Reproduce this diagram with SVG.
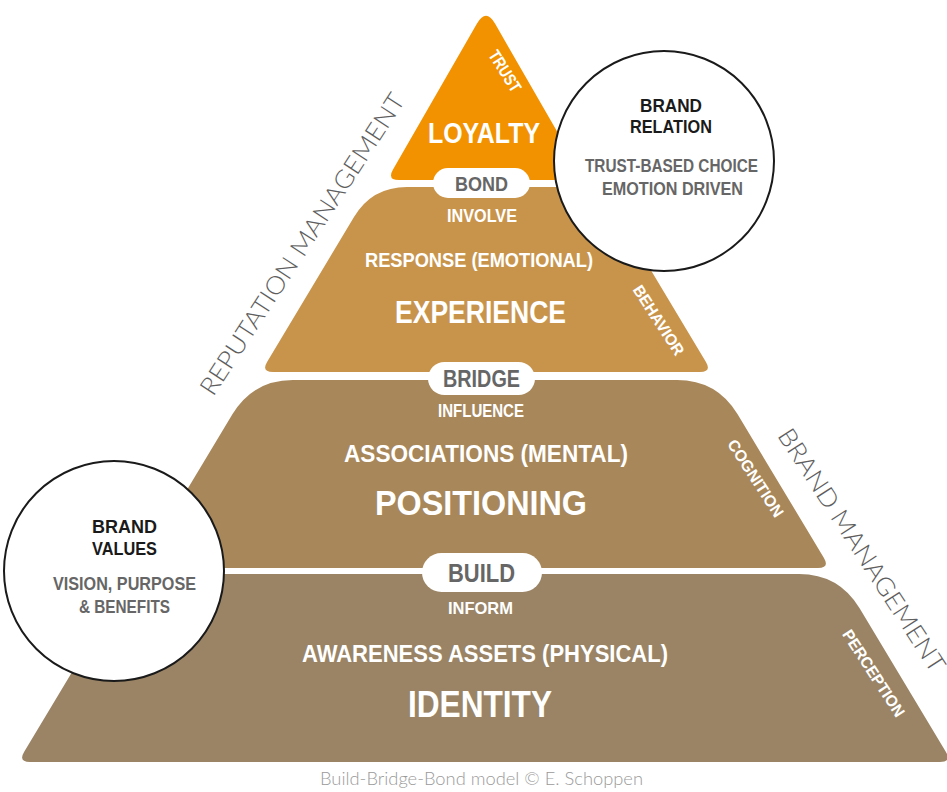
<svg xmlns="http://www.w3.org/2000/svg" width="947" height="792" viewBox="0 0 947 792">
<style>
.b{font-family:"Liberation Sans Narrow","Liberation Sans",Arial,sans-serif;font-weight:bold;text-anchor:middle}
.w{fill:#ffffff}
.g{fill:#666666}
.k{fill:#1a1a1a}
.t{font-family:Lato,"Open Sans","Liberation Sans",sans-serif;font-weight:300;fill:#5e5e5e;text-anchor:middle}
.pill{fill:#ffffff}
.circ{fill:#ffffff;stroke:#1a1a1a;stroke-width:2}
</style>
<rect width="947" height="792" fill="#ffffff"/>
<g id="layer-identity">
<path d="M171,574 L799,574 Q839,574 859.6,608.3 L945.8,751.7 Q952,762 940,762 L30,762 Q18,762 24.2,751.7 L110.4,608.3 Q131,574 171,574 Z" fill="#9a8465"/>
<text class="b w" x="485" y="662" font-size="24" textLength="366" lengthAdjust="spacingAndGlyphs">AWARENESS ASSETS (PHYSICAL)</text>
<text class="b w" x="480" y="717" font-size="37" textLength="144" lengthAdjust="spacingAndGlyphs">IDENTITY</text>
<text class="b w" x="480.5" y="614" font-size="17" textLength="65" lengthAdjust="spacingAndGlyphs">INFORM</text>
<text class="b w" font-size="16" transform="translate(874,673) rotate(57)" y="6" textLength="100" lengthAdjust="spacingAndGlyphs">PERCEPTION</text>
</g>
<g id="layer-positioning">
<path d="M293,380 L677,380 Q717,380 737.6,414.3 L823.8,557.7 Q830,568 818,568 L152,568 Q140,568 146.2,557.7 L232.4,414.3 Q253,380 293,380 Z" fill="#a8875a"/>
<text class="b w" x="486" y="462" font-size="23" textLength="284" lengthAdjust="spacingAndGlyphs">ASSOCIATIONS (MENTAL)</text>
<text class="b w" x="481" y="515" font-size="35" textLength="212" lengthAdjust="spacingAndGlyphs">POSITIONING</text>
<text class="b w" x="481" y="417" font-size="18.5" textLength="86" lengthAdjust="spacingAndGlyphs">INFLUENCE</text>
<text class="b w" font-size="16" transform="translate(756,478) rotate(57)" y="6" textLength="89" lengthAdjust="spacingAndGlyphs">COGNITION</text>
</g>
<g id="layer-experience">
<path d="M407,187 L566,187 Q601,187 619,217 L705.8,361.7 Q712,372 700,372 L273,372 Q261,372 267.2,361.7 L354,217 Q372,187 407,187 Z" fill="#c8944c"/>
<text class="b w" x="479" y="267" font-size="20" textLength="228" lengthAdjust="spacingAndGlyphs">RESPONSE (EMOTIONAL)</text>
<text class="b w" x="480.5" y="323" font-size="32" textLength="171" lengthAdjust="spacingAndGlyphs">EXPERIENCE</text>
<text class="b w" x="482" y="222" font-size="18" textLength="70" lengthAdjust="spacingAndGlyphs">INVOLVE</text>
<text class="b w" font-size="16" transform="translate(659,320) rotate(57)" y="6" textLength="80" lengthAdjust="spacingAndGlyphs">BEHAVIOR</text>
</g>
<g id="layer-loyalty">
<path d="M477,23.6 Q486,8 495,23.6 L579,169.6 Q585,180 573,180 L399,180 Q387,180 393,169.6 Z" fill="#f29200"/>
<text class="b w" x="484" y="143" font-size="29" textLength="112" lengthAdjust="spacingAndGlyphs">LOYALTY</text>
<text class="b w" font-size="17" transform="translate(505,71) rotate(58)" y="6" textLength="46" lengthAdjust="spacingAndGlyphs">TRUST</text>
</g>
<g id="pill-bond">
<rect class="pill" x="433" y="168" width="97" height="30" rx="15"/>
<text class="b g" x="481.5" y="191" font-size="21" textLength="53" lengthAdjust="spacingAndGlyphs">BOND</text>
</g>
<g id="pill-bridge">
<rect class="pill" x="428" y="362" width="107" height="33" rx="16.5"/>
<text class="b g" x="481.5" y="387" font-size="23" textLength="77" lengthAdjust="spacingAndGlyphs">BRIDGE</text>
</g>
<g id="pill-build">
<rect class="pill" x="422" y="553" width="120" height="39" rx="19.5"/>
<text class="b g" x="481.5" y="582" font-size="26" textLength="67" lengthAdjust="spacingAndGlyphs">BUILD</text>
</g>
<g id="circle-brand-relation">
<circle class="circ" cx="664" cy="161" r="110"/>
<text class="b k" x="671" y="112" font-size="19" textLength="62" lengthAdjust="spacingAndGlyphs">BRAND</text>
<text class="b k" x="671" y="133" font-size="19" textLength="82" lengthAdjust="spacingAndGlyphs">RELATION</text>
<text class="b g" x="671.5" y="172" font-size="18" textLength="173" lengthAdjust="spacingAndGlyphs">TRUST-BASED CHOICE</text>
<text class="b g" x="672.5" y="195" font-size="18" textLength="141" lengthAdjust="spacingAndGlyphs">EMOTION DRIVEN</text>
</g>
<g id="circle-brand-values">
<circle class="circ" cx="114" cy="571" r="110"/>
<text class="b k" x="124.5" y="533" font-size="19" textLength="65" lengthAdjust="spacingAndGlyphs">BRAND</text>
<text class="b k" x="124.5" y="555" font-size="19" textLength="65" lengthAdjust="spacingAndGlyphs">VALUES</text>
<text class="b g" x="124.5" y="590" font-size="18" textLength="143" lengthAdjust="spacingAndGlyphs">VISION, PURPOSE</text>
<text class="b g" x="124.5" y="613" font-size="18" textLength="91" lengthAdjust="spacingAndGlyphs">&amp; BENEFITS</text>
</g>
<g id="label-reputation-management">
<text class="t" font-size="25" transform="translate(302,244) rotate(-57)" y="9" textLength="354" lengthAdjust="spacingAndGlyphs">REPUTATION MANAGEMENT</text>
</g>
<g id="label-brand-management">
<text class="t" font-size="25" transform="translate(862,550) rotate(57)" y="9" textLength="285" lengthAdjust="spacingAndGlyphs">BRAND MANAGEMENT</text>
</g>
<g id="caption">
<text class="t" x="481.5" y="785" font-size="17" style="fill:#9a9a9a" textLength="323" lengthAdjust="spacingAndGlyphs">Build-Bridge-Bond model © E. Schoppen</text>
</g>
<g id="connectors"></g>
</svg>
